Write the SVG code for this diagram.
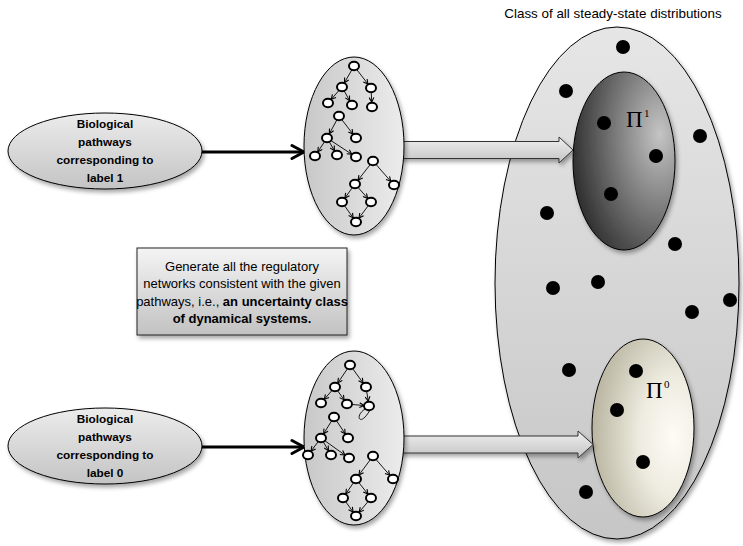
<svg xmlns="http://www.w3.org/2000/svg" width="743" height="546" viewBox="0 0 743 546">
<style>
.t{font-family:"Liberation Sans",Arial,sans-serif;fill:#000}
.lb{font-size:11.8px;font-weight:bold;text-anchor:middle}
.bx{font-size:13px;text-anchor:middle}
.b{font-weight:bold}
.pi{font-family:"Liberation Serif","Times New Roman",serif;fill:#000}
.dot{fill:#000}
.e{stroke:#000;stroke-width:0.9;fill:none;marker-end:url(#sa)}
.n{fill:#fff;stroke:#000;stroke-width:2}
.outl{stroke:#000;stroke-width:1}
</style>
<defs>
<filter id="sh" x="-20%" y="-20%" width="150%" height="150%">
<feDropShadow dx="2" dy="3" stdDeviation="2" flood-color="#000" flood-opacity="0.35"/>
</filter>
<linearGradient id="gLeft" x1="0" y1="0" x2="0" y2="1"><stop offset="0" stop-color="#ececec"/><stop offset="1" stop-color="#c4c4c4"/></linearGradient>
<linearGradient id="gNet" x1="0" y1="0" x2="1" y2="0"><stop offset="0" stop-color="#c8c8c8"/><stop offset="1" stop-color="#ececec"/></linearGradient>
<linearGradient id="gBig" x1="0" y1="0" x2="0" y2="1"><stop offset="0" stop-color="#e6e6e6"/><stop offset="1" stop-color="#c6c6c6"/></linearGradient>
<radialGradient id="gPi1" cx="0.85" cy="0.35" r="1" fx="0.85" fy="0.35"><stop offset="0" stop-color="#c4c4c4"/><stop offset="1" stop-color="#1a1a1a"/></radialGradient>
<radialGradient id="gPi0" cx="0.8" cy="0.55" r="0.95" fx="0.8" fy="0.55"><stop offset="0" stop-color="#fdfcf6"/><stop offset="0.35" stop-color="#eeece0"/><stop offset="1" stop-color="#a8a38c"/></radialGradient>
<linearGradient id="gBox" x1="0" y1="0" x2="0" y2="1"><stop offset="0" stop-color="#f4f4f4"/><stop offset="1" stop-color="#c2c2c2"/></linearGradient>
<linearGradient id="gArr" x1="0" y1="0" x2="0" y2="1"><stop offset="0" stop-color="#efefef"/><stop offset="1" stop-color="#c4c4c4"/></linearGradient>
<marker id="sa" viewBox="0 0 6 6" refX="10" refY="3" markerWidth="6" markerHeight="6" markerUnits="userSpaceOnUse" orient="auto">
<path d="M0.5,0.6 L5,3 L0.5,5.4" fill="none" stroke="#000" stroke-width="1.1"/>
</marker>
<marker id="ba" viewBox="0 0 18 18" refX="13" refY="9" markerWidth="18" markerHeight="18" markerUnits="userSpaceOnUse" orient="auto">
<path d="M2,2.5 L14,9 L2,15.5" fill="none" stroke="#000" stroke-width="3" stroke-linejoin="round" stroke-linecap="round"/>
</marker>
</defs>

<text class="t" x="613" y="18" font-size="13.4" text-anchor="middle">Class of all steady-state distributions</text>

<g id="steady-class">
<ellipse cx="617" cy="283" rx="122" ry="256" fill="url(#gBig)" class="outl" filter="url(#sh)"/>
<circle class="dot" cx="623" cy="47" r="7"/>
<circle class="dot" cx="566" cy="91" r="7"/>
<circle class="dot" cx="700" cy="136" r="7"/>
<circle class="dot" cx="547" cy="213" r="7"/>
<circle class="dot" cx="675" cy="244" r="7"/>
<circle class="dot" cx="598" cy="282" r="7"/>
<circle class="dot" cx="553" cy="288" r="7"/>
<circle class="dot" cx="730" cy="300" r="7"/>
<circle class="dot" cx="692" cy="312" r="7"/>
<circle class="dot" cx="569" cy="370" r="7"/>
<circle class="dot" cx="586" cy="492" r="7"/>
</g>

<g id="pi1">
<ellipse cx="624" cy="161" rx="51" ry="89" fill="url(#gPi1)" class="outl" filter="url(#sh)"/>
<circle class="dot" cx="604" cy="123" r="7"/>
<circle class="dot" cx="656" cy="156" r="7"/>
<circle class="dot" cx="611" cy="194" r="7"/>
<text class="pi" x="626" y="127" font-size="23">Π</text>
<text class="pi" x="644" y="117" font-size="11">1</text>
</g>

<g id="pi0">
<ellipse cx="643" cy="428" rx="51" ry="89" fill="url(#gPi0)" class="outl" filter="url(#sh)"/>
<circle class="dot" cx="636" cy="371" r="7"/>
<circle class="dot" cx="617" cy="410" r="7"/>
<circle class="dot" cx="643" cy="462" r="7"/>
<text class="pi" x="646" y="398" font-size="23">Π</text>
<text class="pi" x="664" y="388" font-size="11">0</text>
</g>

<g id="connectors">
<path d="M398,141.5 H559 V137 L573,150 L559,163 V158.5 H398 Z" fill="url(#gArr)" stroke="#333" stroke-width="1" filter="url(#sh)"/>
<path d="M398,436 H578 V431 L593,444.5 L578,458 V453 H398 Z" fill="url(#gArr)" stroke="#333" stroke-width="1" filter="url(#sh)"/>
<line x1="200" y1="152" x2="303" y2="152" stroke="#000" stroke-width="3" marker-end="url(#ba)"/>
<line x1="200" y1="447" x2="303" y2="447" stroke="#000" stroke-width="3" marker-end="url(#ba)"/>
</g>

<g id="pathways1">
<ellipse cx="105" cy="151" rx="97" ry="38" fill="url(#gLeft)" class="outl" filter="url(#sh)"/>
<text class="t lb" x="105" y="128">Biological</text>
<text class="t lb" x="105" y="146">pathways</text>
<text class="t lb" x="105" y="164">corresponding to</text>
<text class="t lb" x="105" y="182">label 1</text>
</g>

<g id="pathways0">
<ellipse cx="105" cy="446" rx="97" ry="38" fill="url(#gLeft)" class="outl" filter="url(#sh)"/>
<text class="t lb" x="105" y="423">Biological</text>
<text class="t lb" x="105" y="441">pathways</text>
<text class="t lb" x="105" y="459">corresponding to</text>
<text class="t lb" x="105" y="477">label 0</text>
</g>

<g id="network1">
<ellipse cx="354" cy="146" rx="50" ry="89" fill="url(#gNet)" class="outl" filter="url(#sh)"/>
<line class="e" x1="354" y1="66" x2="342" y2="87"/>
<line class="e" x1="354" y1="66" x2="371" y2="88"/>
<line class="e" x1="342" y1="87" x2="328" y2="103"/>
<line class="e" x1="342" y1="87" x2="352" y2="105"/>
<line class="e" x1="371" y1="88" x2="372" y2="107"/>
<line class="e" x1="339" y1="116" x2="327" y2="138"/>
<line class="e" x1="339" y1="116" x2="356" y2="138"/>
<line class="e" x1="327" y1="138" x2="315" y2="156"/>
<line class="e" x1="327" y1="138" x2="337" y2="155"/>
<line class="e" x1="327" y1="138" x2="356" y2="157"/>
<line class="e" x1="373" y1="161" x2="355" y2="184"/>
<line class="e" x1="373" y1="161" x2="394" y2="185"/>
<line class="e" x1="355" y1="184" x2="342" y2="202"/>
<line class="e" x1="355" y1="184" x2="371" y2="202"/>
<line class="e" x1="342" y1="202" x2="356" y2="222"/>
<line class="e" x1="371" y1="202" x2="356" y2="222"/>
<ellipse class="n" cx="354" cy="66" rx="5" ry="4.2"/>
<ellipse class="n" cx="342" cy="87" rx="5" ry="4.2"/>
<ellipse class="n" cx="371" cy="88" rx="5" ry="4.2"/>
<ellipse class="n" cx="328" cy="103" rx="5" ry="4.2"/>
<ellipse class="n" cx="352" cy="105" rx="5" ry="4.2"/>
<ellipse class="n" cx="372" cy="107" rx="5" ry="4.2"/>
<ellipse class="n" cx="339" cy="116" rx="5" ry="4.2"/>
<ellipse class="n" cx="327" cy="138" rx="5" ry="4.2"/>
<ellipse class="n" cx="356" cy="138" rx="5" ry="4.2"/>
<ellipse class="n" cx="315" cy="156" rx="5" ry="4.2"/>
<ellipse class="n" cx="337" cy="155" rx="5" ry="4.2"/>
<ellipse class="n" cx="356" cy="157" rx="5" ry="4.2"/>
<ellipse class="n" cx="373" cy="161" rx="5" ry="4.2"/>
<ellipse class="n" cx="355" cy="184" rx="5" ry="4.2"/>
<ellipse class="n" cx="394" cy="185" rx="5" ry="4.2"/>
<ellipse class="n" cx="342" cy="202" rx="5" ry="4.2"/>
<ellipse class="n" cx="371" cy="202" rx="5" ry="4.2"/>
<ellipse class="n" cx="356" cy="222" rx="5" ry="4.2"/>
</g>

<g id="network0">
<ellipse cx="354" cy="438" rx="50" ry="87" fill="url(#gNet)" class="outl" filter="url(#sh)"/>
<line class="e" x1="350" y1="365" x2="335" y2="387"/>
<line class="e" x1="350" y1="365" x2="366" y2="387"/>
<line class="e" x1="335" y1="387" x2="321" y2="403"/>
<line class="e" x1="335" y1="387" x2="347" y2="404"/>
<line class="e" x1="366" y1="387" x2="369" y2="406"/>
<line class="e" x1="347" y1="404" x2="369" y2="406"/>
<path d="M365,409 C354,416 360,428 370,410" stroke="#000" stroke-width="0.9" fill="none"/>
<line class="e" x1="334" y1="417" x2="321" y2="438"/>
<line class="e" x1="334" y1="417" x2="348" y2="438"/>
<line class="e" x1="321" y1="438" x2="308" y2="455"/>
<line class="e" x1="321" y1="438" x2="331" y2="455"/>
<line class="e" x1="321" y1="438" x2="349" y2="458"/>
<line class="e" x1="373" y1="456" x2="356" y2="479"/>
<line class="e" x1="373" y1="456" x2="393" y2="479"/>
<line class="e" x1="356" y1="479" x2="343" y2="498"/>
<line class="e" x1="356" y1="479" x2="371" y2="498"/>
<line class="e" x1="343" y1="498" x2="356" y2="516"/>
<line class="e" x1="371" y1="498" x2="356" y2="516"/>
<ellipse class="n" cx="350" cy="365" rx="5" ry="4.2"/>
<ellipse class="n" cx="335" cy="387" rx="5" ry="4.2"/>
<ellipse class="n" cx="366" cy="387" rx="5" ry="4.2"/>
<ellipse class="n" cx="321" cy="403" rx="5" ry="4.2"/>
<ellipse class="n" cx="347" cy="404" rx="5" ry="4.2"/>
<ellipse class="n" cx="369" cy="406" rx="5" ry="4.2"/>
<ellipse class="n" cx="334" cy="417" rx="5" ry="4.2"/>
<ellipse class="n" cx="321" cy="438" rx="5" ry="4.2"/>
<ellipse class="n" cx="348" cy="438" rx="5" ry="4.2"/>
<ellipse class="n" cx="308" cy="455" rx="5" ry="4.2"/>
<ellipse class="n" cx="331" cy="455" rx="5" ry="4.2"/>
<ellipse class="n" cx="349" cy="458" rx="5" ry="4.2"/>
<ellipse class="n" cx="373" cy="456" rx="5" ry="4.2"/>
<ellipse class="n" cx="356" cy="479" rx="5" ry="4.2"/>
<ellipse class="n" cx="393" cy="479" rx="5" ry="4.2"/>
<ellipse class="n" cx="343" cy="498" rx="5" ry="4.2"/>
<ellipse class="n" cx="371" cy="498" rx="5" ry="4.2"/>
<ellipse class="n" cx="356" cy="516" rx="5" ry="4.2"/>
</g>

<g id="note">
<rect x="137" y="248" width="210" height="87" fill="url(#gBox)" stroke="#222" stroke-width="1" filter="url(#sh)"/>
<text class="t bx" x="242" y="271">Generate all the regulatory</text>
<text class="t bx" x="242" y="288">networks consistent with the given</text>
<text class="t bx" x="242" y="306">pathways, i.e., <tspan class="b">an uncertainty class</tspan></text>
<text class="t bx b" x="242" y="323">of dynamical systems.</text>
</g>
</svg>
